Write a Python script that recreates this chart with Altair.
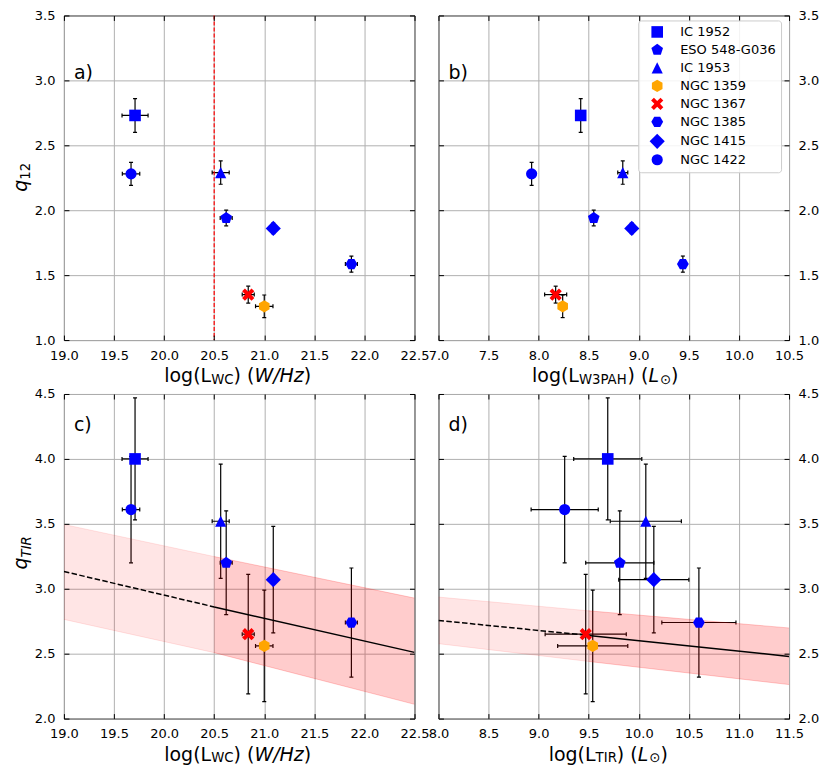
import math
import altair as alt
import pandas as pd

# ---------------- data ----------------
galaxies = ["IC 1952", "ESO 548-G036", "IC 1953", "NGC 1359",
            "NGC 1367", "NGC 1385", "NGC 1415", "NGC 1422"]
colors = ["#0000ff", "#0000ff", "#0000ff", "#ffa500",
          "#ff0000", "#0000ff", "#0000ff", "#0000ff"]

log_wc = [19.71, 20.62, 20.565, 21.00, 20.84, 21.87, 21.09, 19.67]
log_wc_err = [0.13, 0.06, 0.085, 0.087, 0.06, 0.06, 0.04, 0.087]
log_w3pah = [8.42, 8.55, 8.84, 8.24, 8.17, 9.44, 8.93, 7.93]
log_w3pah_err = [0.03, 0.03, 0.05, 0.04, 0.11, 0.03, 0.03, 0.04]
log_tir = [9.69, 9.81, 10.07, 9.54, 9.47, 10.60, 10.15, 9.26]
log_tir_err = [0.34, 0.34, 0.355, 0.35, 0.405, 0.37, 0.35, 0.335]
q12 = [2.73, 1.94, 2.29, 1.26, 1.35, 1.585, 1.86, 2.28]
q12_err = [0.13, 0.06, 0.09, 0.087, 0.065, 0.062, 0.04, 0.088]
qtir = [4.00, 3.20, 3.52, 2.56, 2.65, 2.74, 3.07, 3.61]
qtir_err = [0.47, 0.40, 0.44, 0.43, 0.46, 0.42, 0.41, 0.41]

wc_threshold = [20.5]

fit_c_x = [19.0, 20.5, 22.5]
fit_c_y = [3.133, 2.86, 2.51]
fit_c_lo = [2.764, 2.508, 2.11]
fit_c_hi = [3.495, 3.248, 2.928]

fit_d_x = [8.0, 9.5, 11.5]
fit_d_y = [2.756, 2.64, 2.479]
fit_d_lo = [2.577, 2.44, 2.262]
fit_d_hi = [2.936, 2.83, 2.698]

ticks_wc = [19.0, 19.5, 20.0, 20.5, 21.0, 21.5, 22.0, 22.5]
ticks_w3 = [7.0, 7.5, 8.0, 8.5, 9.0, 9.5, 10.0, 10.5]
ticks_tir = [8.0, 8.5, 9.0, 9.5, 10.0, 10.5, 11.0, 11.5]
ticks_q12 = [1.0, 1.5, 2.0, 2.5, 3.0, 3.5]
ticks_qtir = [2.0, 2.5, 3.0, 3.5, 4.0, 4.5]

# ---------------- styling ----------------
FONT = "DejaVu Sans"
TFS = 19
LFS = 13
PW, PH = 351, 325

ADV = {'l': 569, 'o': 1253, 'g': 1300, '(': 799, ')': 799, 'L': 1141, ' ': 651,
       'W': 2025, 'C': 1430, '/': 690, 'H': 1540, 'z': 1075, '3': 1303, 'P': 1235,
       'A': 1401, 'T': 1251, 'I': 604, 'R': 1423, 'q': 1300, '1': 1303, '2': 1303,
       '\u2299': 1716}


def tw(s, fs):
    return sum(ADV.get(c, 1200) for c in s) / 2048.0 * fs


def poly(pts):
    return "M" + "L".join(f"{x:.3f},{y:.3f}" for x, y in pts) + "Z"


PENT = poly([(math.sin(math.radians(a)), -math.cos(math.radians(a))) for a in range(0, 360, 72)])
HEX_P = poly([(math.sin(math.radians(a)), -math.cos(math.radians(a))) for a in range(0, 360, 60)])
HEX_F = poly([(math.cos(math.radians(a)), math.sin(math.radians(a))) for a in range(0, 360, 60)])
TRI = "M0,-1L1,1L-1,1Z"
DIA = "M0,-1L1,0L0,1L-1,0Z"
_a = 0.3
_plus = [(_a, -1), (_a, -_a), (1, -_a), (1, _a), (_a, _a), (_a, 1), (-_a, 1), (-_a, _a),
         (-1, _a), (-1, -_a), (-_a, -_a), (-_a, -1)]
_k = math.sqrt(2) / (1 + _a)
XF = poly([((x - y) / math.sqrt(2) * _k, (x + y) / math.sqrt(2) * _k) for x, y in _plus])

shapes = ["square", PENT, TRI, HEX_P, XF, HEX_F, DIA, "circle"]
sizes = [135, 150, 125, 150, 150, 140, 230, 125]

one = pd.DataFrame({"k": [0]})


def text_piece(s, fs, italic, px, py, angle=0, color="black"):
    return alt.Chart(one).mark_text(
        text=s, fontSize=fs, font=FONT, fontStyle="italic" if italic else "normal",
        align="left", baseline="alphabetic", angle=angle, color=color
    ).encode(x=alt.value(px), y=alt.value(py))


def xtitle(pieces, cx, by):
    total = sum(tw(s, TFS * sc) + g for s, sc, it, d, g in pieces)
    pos = cx - total / 2
    out = []
    for s, sc, it, d, g in pieces:
        pos += g
        out.append(text_piece(s, TFS * sc, it, pos, by + d))
        pos += tw(s, TFS * sc)
    return out


def ytitle(pieces, bx, cy):
    total = sum(tw(s, TFS * sc) + g for s, sc, it, d, g in pieces)
    pos = cy + total / 2
    out = []
    for s, sc, it, d, g in pieces:
        pos -= g
        out.append(text_piece(s, TFS * sc, it, bx + d, pos, angle=270))
        pos -= tw(s, TFS * sc)
    return out


def panel(xv, xe, yv, ye, xdom, ydom, xticks, yticks, yside, label, label_y,
          xt_pieces, xt_cx, yt_pieces, yt_cy, fit=None, vline=None, legend=False):
    df = pd.DataFrame({
        "gal": galaxies, "x": xv, "y": yv,
        "xlo": [v - e for v, e in zip(xv, xe)], "xhi": [v + e for v, e in zip(xv, xe)],
        "ylo": [v - e for v, e in zip(yv, ye)], "yhi": [v + e for v, e in zip(yv, ye)],
    })
    capy = pd.DataFrame({"x": list(xv) * 2, "y": list(df["ylo"]) + list(df["yhi"])})
    capx = pd.DataFrame({"x": list(df["xlo"]) + list(df["xhi"]), "y": list(yv) * 2})

    xs = alt.Scale(domain=xdom, nice=False, zero=False)
    ys = alt.Scale(domain=ydom, nice=False, zero=False)

    def X(f, axis=None):
        return alt.X(f, type="quantitative", scale=xs, axis=axis)

    def Y(f, axis=None):
        return alt.Y(f, type="quantitative", scale=ys, axis=axis)

    common = dict(title=None, domain=False)
    gx = alt.Axis(orient="bottom", values=xticks, grid=True, gridColor="#b0b0b0", gridWidth=1,
                  ticks=False, labels=False, zindex=0, **common)
    gy = alt.Axis(orient="left", values=yticks, grid=True, gridColor="#b0b0b0", gridWidth=1,
                  ticks=False, labels=False, zindex=0, **common)
    lx = alt.Axis(orient="bottom", values=xticks, format=".1f", offset=-5, tickSize=5,
                  tickColor="black", tickWidth=1, labelPadding=9, labelFontSize=LFS,
                  labelFont=FONT, labelColor="black", labelFlush=False, labelOverlap=False,
                  grid=False, zindex=1, **common)
    tx = alt.Axis(orient="top", values=xticks, offset=-5, tickSize=5, tickColor="black",
                  tickWidth=1, labels=False, grid=False, zindex=1, **common)
    other = "right" if yside == "left" else "left"
    ly = alt.Axis(orient=yside, values=yticks, format=".1f", offset=-5, tickSize=5,
                  tickColor="black", tickWidth=1, labelPadding=9, labelFontSize=LFS,
                  labelFont=FONT, labelColor="black", labelFlush=False, labelOverlap=False,
                  grid=False, zindex=1, **common)
    ty = alt.Axis(orient=other, values=yticks, offset=-5, tickSize=5, tickColor="black",
                  tickWidth=1, labels=False, grid=False, zindex=1, **common)

    base = alt.Chart(df)
    layers = [
        base.mark_point(opacity=0).encode(x=X("x", gx), y=Y("y", gy)),
        base.mark_point(opacity=0).encode(x=X("x", lx), y=Y("y", ly)),
        base.mark_point(opacity=0).encode(x=X("x", tx), y=Y("y", ty)),
        base.mark_rule(color="black", strokeWidth=1.2, clip=True).encode(x=X("x"), y=Y("ylo"), y2="yhi"),
        base.mark_rule(color="black", strokeWidth=1.2, clip=True).encode(x=X("xlo"), x2="xhi", y=Y("y")),
        alt.Chart(capy).mark_tick(orient="horizontal", size=4, thickness=1.2, color="black",
                                  opacity=1, clip=True).encode(x=X("x"), y=Y("y")),
        alt.Chart(capx).mark_tick(orient="vertical", size=4, thickness=1.2, color="black",
                                  opacity=1, clip=True).encode(x=X("x"), y=Y("y")),
    ]
    if fit is not None:
        fx, fy, flo, fhi = fit
        fdf = pd.DataFrame({"x": fx, "y": fy, "lo": flo, "hi": fhi})
        light = fdf.iloc[0:2]
        dark = fdf.iloc[1:3]
        for part, op in ((light, 0.1), (dark, 0.2)):
            layers.append(alt.Chart(part).mark_area(color="red", opacity=op, clip=True)
                          .encode(x=X("x"), y=Y("lo"), y2="hi"))
            layers.append(alt.Chart(part).transform_fold(["lo", "hi"], as_=["k", "v"])
                          .mark_line(color="red", opacity=op, strokeWidth=1, clip=True)
                          .encode(x=X("x"), y=Y("v"), detail="k:N"))
        layers.append(alt.Chart(light).mark_line(color="black", strokeWidth=1.5,
                                                 strokeDash=[5.5, 2.4], clip=True)
                      .encode(x=X("x"), y=Y("y")))
        layers.append(alt.Chart(dark).mark_line(color="black", strokeWidth=1.5, clip=True)
                      .encode(x=X("x"), y=Y("y")))
    if vline is not None:
        layers.append(alt.Chart(pd.DataFrame({"v": vline})).mark_rule(
            color="red", strokeWidth=1.2, strokeDash=[4, 2]).encode(x=X("v")))

    if legend:
        leg = alt.Legend(title=None, orient="none", legendX=200, legendY=5,
                         fillColor="rgba(255,255,255,0.85)", strokeColor="#cccccc",
                         cornerRadius=3, padding=5, symbolOffset=6, labelOffset=15,
                         rowPadding=4, labelFontSize=LFS, labelFont=FONT, labelColor="black",
                         symbolStrokeWidth=0, symbolOpacity=1, zindex=1)
    else:
        leg = None
    layers.append(base.mark_point(filled=True, opacity=1, strokeWidth=0).encode(
        x=X("x"), y=Y("y"),
        shape=alt.Shape("gal:N", scale=alt.Scale(domain=galaxies, range=shapes), legend=leg),
        color=alt.Color("gal:N", scale=alt.Scale(domain=galaxies, range=colors), legend=leg),
        size=alt.Size("gal:N", scale=alt.Scale(type="ordinal", domain=galaxies, range=sizes),
                      legend=leg),
    ))
    layers.append(text_piece(label, TFS, False, 10, label_y))
    layers += xtitle(xt_pieces, xt_cx, PH + 42)
    if yt_pieces:
        layers += ytitle(yt_pieces, -37, yt_cy)
    return alt.layer(*layers).resolve_axis(x="independent", y="independent").properties(
        width=PW, height=PH)


SUN = "\u2299"
xt_wc = [("log(L", 1, False, 0, 0), ("WC", 0.7, False, 1.5, 0), (") (", 1, False, 0, 0),
         ("W/Hz", 1, True, 0, 0), (")", 1, False, 0, 0)]
xt_w3 = [("log(L", 1, False, 0, 0), ("W3PAH", 0.7, False, 1.5, 0), (") (", 1, False, 0, 0),
         ("L", 1, True, 0, 0), (SUN, 0.7, False, 1.5, 1), (")", 1, False, 0, 0)]
xt_tir = [("log(L", 1, False, 0, 0), ("TIR", 0.7, False, 1.5, 0), (") (", 1, False, 0, 0),
          ("L", 1, True, 0, 0), (SUN, 0.7, False, 1.5, 1), (")", 1, False, 0, 0)]
yt_q12 = [("q", 1, True, 0, 0), ("12", 0.7, False, 3.5, 0)]
yt_qtir = [("q", 1, True, 0, 0), ("TIR", 0.7, True, 4, 0)]

pa = panel(log_wc, log_wc_err, q12, q12_err, [19.0, 22.5], [1.0, 3.5], ticks_wc, ticks_q12,
           "left", "a)", 64, xt_wc, 174, yt_q12, 162, vline=wc_threshold)
pb = panel(log_w3pah, log_w3pah_err, q12, q12_err, [7.0, 10.5], [1.0, 3.5], ticks_w3, ticks_q12,
           "right", "b)", 64, xt_w3, 167, None, 0, legend=True)
pc = panel(log_wc, log_wc_err, qtir, qtir_err, [19.0, 22.5], [2.0, 4.5], ticks_wc, ticks_qtir,
           "left", "c)", 37, xt_wc, 174, yt_qtir, 159,
           fit=(fit_c_x, fit_c_y, fit_c_lo, fit_c_hi))
pd_ = panel(log_tir, log_tir_err, qtir, qtir_err, [8.0, 11.5], [2.0, 4.5], ticks_tir, ticks_qtir,
            "right", "d)", 37, xt_tir, 170, None, 0,
            fit=(fit_d_x, fit_d_y, fit_d_lo, fit_d_hi))

chart = alt.concat(pa, pb, pc, pd_, columns=2, spacing={"row": 54, "column": 24},
                   bounds="flush").resolve_scale(
    color="independent", shape="independent", size="independent"
).properties(
    padding={"left": 3, "top": 0, "right": 2, "bottom": 2}, background="white"
).configure(font=FONT).configure_view(stroke="black", strokeWidth=1).configure_legend(
    labelFontSize=LFS, labelFont=FONT, labelColor="black"
)

chart.save("out.html", embed_options={"renderer": "svg", "actions": False})
